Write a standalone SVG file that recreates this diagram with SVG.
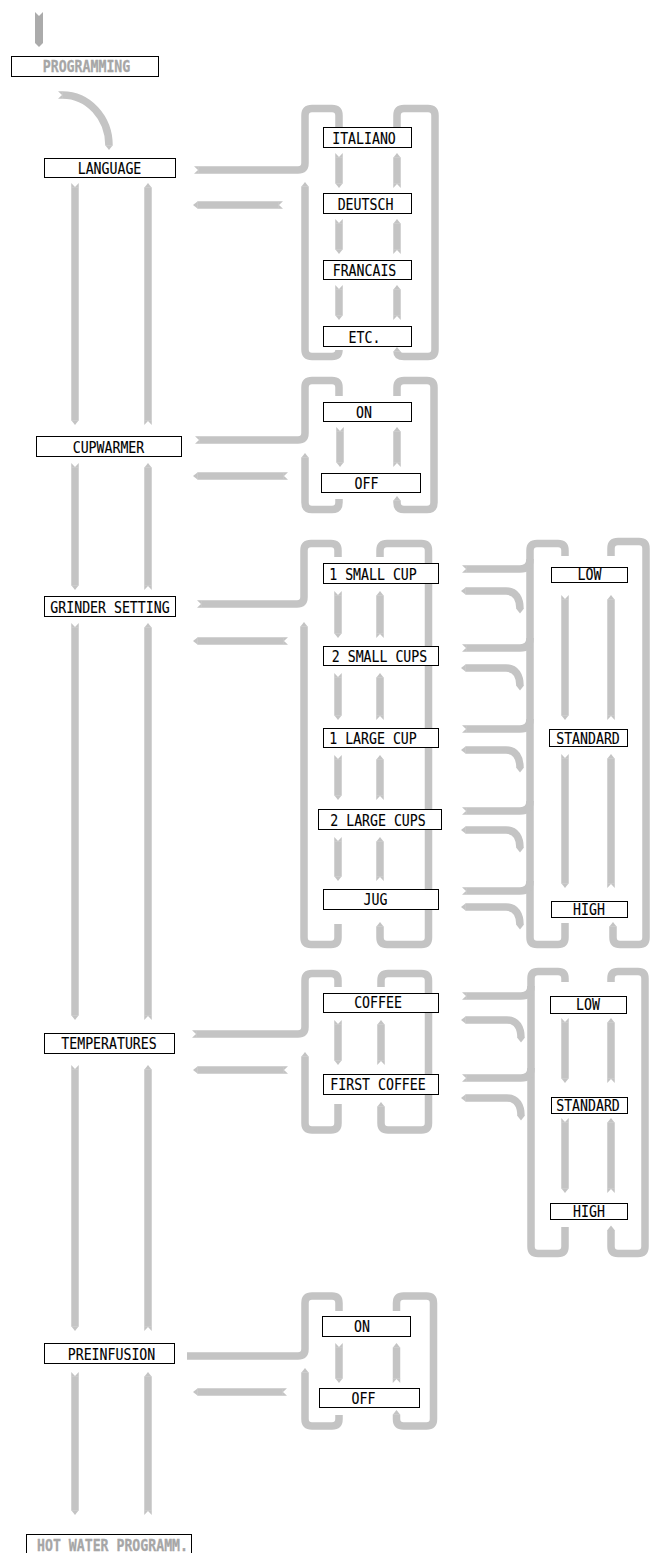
<svg xmlns="http://www.w3.org/2000/svg" width="655" height="1553" viewBox="0 0 655 1553">
<style>
.r{fill:none;stroke:#c4c4c4;stroke-width:7.5}
.s{marker-start:url(#tl)}
.a{marker-end:url(#hd)}
.ah{marker-start:url(#hd)}
.b{fill:#fff;stroke:#000;stroke-width:1}
.t{font-family:"DejaVu Sans Mono","Liberation Mono",monospace;font-size:15px;text-anchor:middle;fill:#000;stroke:#000;stroke-width:0.12}
.g{fill:#a6a6a6;stroke:#a6a6a6;stroke-width:0.3;font-weight:bold}
</style>
<defs>
<marker id="hd" markerUnits="userSpaceOnUse" orient="auto-start-reverse" markerWidth="12" markerHeight="12" refX="0" refY="0" style="overflow:visible"><path d="M-0.3,-3.75L4.5,0L-0.3,3.75Z" fill="#c4c4c4"/></marker>
<marker id="tl" markerUnits="userSpaceOnUse" orient="auto" markerWidth="12" markerHeight="12" refX="0" refY="0" style="overflow:visible"><path d="M0.3,-3.75H-4.5L-0.5,0L-4.5,3.75H0.3Z" fill="#c4c4c4"/></marker>
</defs>
<g id="connectors">
<polygon points="35,12 39,16 43,12 43,43 39,47 35,43" fill="#ababab"/>
<path class="r s a" d="M62.5 95C88.2 95 109 117.6 109 145.5"/>
<path class="r s a" d="M75 187.5V420.5"/>
<path class="r s a" d="M148 420.5V187.5"/>
<path class="r s a" d="M75 467.5V585.5"/>
<path class="r s a" d="M148 585.5V467.5"/>
<path class="r s a" d="M75 627.5V1015.5"/>
<path class="r s a" d="M148 1015.5V627.5"/>
<path class="r s a" d="M75 1069.5V1326.5"/>
<path class="r s a" d="M148 1326.5V1069.5"/>
<path class="r s a" d="M75 1376.5V1510.5"/>
<path class="r s a" d="M148 1510.5V1376.5"/>
<!-- LANGUAGE -->
<path class="r s" d="M198.5 170H298Q305 170 305 163V115.5Q305 108.5 312 108.5H332Q339 108.5 339 115.5V130"/>
<path class="r s a" d="M278.5 205H197.5"/>
<path class="r a" d="M339 350Q339 356.5 332 356.5H312Q305 356.5 305 349.5V186.5"/>
<path class="r a" d="M397 130V115.5Q397 108.5 404 108.5H428Q435 108.5 435 115.5V349.5Q435 356.5 428 356.5H404Q397 356.5 397 351.5"/>
<path class="r s a" d="M339 157.5V183.5"/><path class="r s a" d="M397 183.5V157.5"/>
<path class="r s a" d="M339 223.5V249.5"/><path class="r s a" d="M397 249.5V223.5"/>
<path class="r s a" d="M339 289.5V315.5"/><path class="r s a" d="M397 315.5V289.5"/>
<!-- CUPWARMER -->
<path class="r s" d="M199.5 440H298Q305 440 305 433V387.5Q305 380.5 312 380.5H332Q339 380.5 339 387.5V396"/>
<path class="r s a" d="M283.5 476H197.5"/>
<path class="r a" d="M339 499V502.5Q339 509.5 332 509.5H312Q305 509.5 305 502.5V457.5"/>
<path class="r a" d="M397 396V387.5Q397 380.5 404 380.5H427Q434 380.5 434 387.5V502.5Q434 509.5 427 509.5H404Q397 509.5 397 502.5V500.5"/>
<path class="r s a" d="M340 431.5V462.5"/><path class="r s a" d="M397 462.5V431.5"/>
<!-- GRINDER -->
<path class="r s" d="M201.5 604H297Q304 604 304 597V550.5Q304 543.5 311 543.5H331Q338 543.5 338 550.5V557"/>
<path class="r s a" d="M283.5 641H197.5"/>
<path class="r a" d="M338 924V937.5Q338 944.5 331 944.5H311Q304 944.5 304 937.5V626.5"/>
<path class="r a" d="M380 557V550.5Q380 543.5 387 543.5H421.5Q428.5 543.5 428.5 550.5V937.5Q428.5 944.5 421.5 944.5H387Q380 944.5 380 937.5V926.5"/>
<path class="r s a" d="M338 595.5V633.5"/><path class="r s a" d="M380 633.5V595.5"/>
<path class="r s a" d="M338 677.5V715.5"/><path class="r s a" d="M380 715.5V677.5"/>
<path class="r s a" d="M338 759.5V795.5"/><path class="r s a" d="M380 795.5V759.5"/>
<path class="r s a" d="M338 841.5V876.5"/><path class="r s a" d="M380 876.5V841.5"/>
<path class="r" d="M565 556V550.5Q565 543.5 558 543.5H537Q530 543.5 530 550.5V937.5Q530 944.5 537 944.5H558Q565 944.5 565 937.5V923"/>
<path class="r a" d="M611 556V548.5Q611 541.5 618 541.5H639Q646 541.5 646 548.5V937.5Q646 944.5 639 944.5H620Q613 944.5 613 937.5V926.5"/>
<path class="r s a" d="M565 599.5V715.5"/><path class="r s a" d="M611 715.5V599.5"/>
<path class="r s a" d="M565 758.5V883.5"/><path class="r s a" d="M611 883.5V758.5"/>
<path class="r s" d="M466.5 569H520Q530 569 530 559"/>
<path class="r s" d="M466.5 648H520Q530 648 530 638"/>
<path class="r s" d="M466.5 729H520Q530 729 530 719"/>
<path class="r s" d="M466.5 811H520Q530 811 530 801"/>
<path class="r s" d="M466.5 891H520Q530 891 530 881"/>
<path class="r ah a" d="M520 609C520 599 516 591 506 591H465.5"/>
<path class="r ah a" d="M520 686C520 676 516 668 506 668H465.5"/>
<path class="r ah a" d="M520 768C520 758 516 750 506 750H465.5"/>
<path class="r ah a" d="M520 848C520 838 516 830 506 830H465.5"/>
<path class="r ah a" d="M520 925C520 915 516 907 506 907H465.5"/>
<!-- TEMPERATURES -->
<path class="r s" d="M196.5 1034H298Q305 1034 305 1027V980.5Q305 973.5 312 973.5H331Q338 973.5 338 980.5V987"/>
<path class="r s a" d="M283.5 1070H197.5"/>
<path class="r a" d="M338 1104V1123Q338 1130 331 1130H312Q305 1130 305 1123V1056.5"/>
<path class="r a" d="M381 987V980.5Q381 973.5 388 973.5H421.5Q428.5 973.5 428.5 980.5V1123Q428.5 1130 421.5 1130H388Q381 1130 381 1123V1106.5"/>
<path class="r s a" d="M338 1024.5V1060.5"/><path class="r s a" d="M381 1060.5V1024.5"/>
<path class="r" d="M565 982V978.5Q565 971.5 558 971.5H538Q531 971.5 531 978.5V1246.5Q531 1253.5 538 1253.5H558Q565 1253.5 565 1246.5V1227"/>
<path class="r a" d="M611 982V978.5Q611 971.5 618 971.5H638Q645 971.5 645 978.5V1246.5Q645 1253.5 638 1253.5H618Q611 1253.5 611 1246.5V1230"/>
<path class="r s a" d="M565 1022.5V1078.5"/><path class="r s a" d="M611 1078.5V1022.5"/>
<path class="r s a" d="M565 1122.5V1188.5"/><path class="r s a" d="M611 1188.5V1122.5"/>
<path class="r s" d="M466.5 996H521Q531 996 531 986"/>
<path class="r s" d="M466.5 1078H521Q531 1078 531 1068"/>
<path class="r ah a" d="M521 1038C521 1028 517 1020 507 1020H465.5"/>
<path class="r ah a" d="M521 1116C521 1106 517 1098 507 1098H465.5"/>
<!-- PREINFUSION -->
<path class="r" d="M187 1356H298Q305 1356 305 1349V1303Q305 1296 312 1296H332Q339 1296 339 1303V1311"/>
<path class="r s a" d="M282.5 1392H197.5"/>
<path class="r a" d="M339 1415V1419Q339 1426 332 1426H312Q305 1426 305 1419V1372.5"/>
<path class="r a" d="M396.5 1311V1303Q396.5 1296 403.5 1296H426.5Q433.5 1296 433.5 1303V1419Q433.5 1426 426.5 1426H403.5Q396.5 1426 396.5 1419V1414.5"/>
<path class="r s a" d="M339 1347.5V1378.5"/><path class="r s a" d="M396.5 1378.5V1347.5"/>
</g>
<g id="programming"><rect class="b" x="11.5" y="56.5" width="147" height="20"/><text class="t g" x="86.5" y="72" textLength="87.5" lengthAdjust="spacingAndGlyphs">PROGRAMMING</text></g>
<g id="language"><rect class="b" x="44.5" y="158.5" width="131" height="19"/><text class="t" x="109.5" y="174" textLength="63.6" lengthAdjust="spacingAndGlyphs">LANGUAGE</text></g>
<g id="italiano"><rect class="b" x="323.5" y="127.5" width="88" height="20"/><text class="t" x="364" y="144" textLength="63.6" lengthAdjust="spacingAndGlyphs">ITALIANO</text></g>
<g id="deutsch"><rect class="b" x="323.5" y="193.5" width="88" height="20"/><text class="t" x="365.5" y="210" textLength="55.7" lengthAdjust="spacingAndGlyphs">DEUTSCH</text></g>
<g id="francais"><rect class="b" x="323.5" y="260.5" width="88" height="19"/><text class="t" x="364.5" y="276" textLength="63.6" lengthAdjust="spacingAndGlyphs">FRANCAIS</text></g>
<g id="etc"><rect class="b" x="323.5" y="326.5" width="88" height="20"/><text class="t" x="364.5" y="342.5" textLength="31.8" lengthAdjust="spacingAndGlyphs">ETC.</text></g>
<g id="cupwarmer"><rect class="b" x="36.5" y="436.5" width="145" height="20"/><text class="t" x="108.5" y="452.5" textLength="71.6" lengthAdjust="spacingAndGlyphs">CUPWARMER</text></g>
<g id="cw-on"><rect class="b" x="323.5" y="402.5" width="88" height="19"/><text class="t" x="364" y="417.5" textLength="15.9" lengthAdjust="spacingAndGlyphs">ON</text></g>
<g id="cw-off"><rect class="b" x="321.5" y="473.5" width="99" height="19"/><text class="t" x="366.5" y="488.5" textLength="23.9" lengthAdjust="spacingAndGlyphs">OFF</text></g>
<g id="grinder"><rect class="b" x="44.5" y="596.5" width="131" height="20"/><text class="t" x="110" y="612.5" textLength="119.3" lengthAdjust="spacingAndGlyphs">GRINDER SETTING</text></g>
<g id="small1"><rect class="b" x="323.5" y="563.5" width="115" height="20"/><text class="t" x="373" y="580" textLength="87.5" lengthAdjust="spacingAndGlyphs">1 SMALL CUP</text></g>
<g id="small2"><rect class="b" x="323.5" y="646.5" width="115" height="19"/><text class="t" x="379.5" y="661.5" textLength="95.4" lengthAdjust="spacingAndGlyphs">2 SMALL CUPS</text></g>
<g id="large1"><rect class="b" x="323.5" y="728.5" width="115" height="19"/><text class="t" x="373" y="743.5" textLength="87.5" lengthAdjust="spacingAndGlyphs">1 LARGE CUP</text></g>
<g id="large2"><rect class="b" x="318.5" y="809.5" width="123" height="20"/><text class="t" x="378" y="825.5" textLength="95.4" lengthAdjust="spacingAndGlyphs">2 LARGE CUPS</text></g>
<g id="jug"><rect class="b" x="323.5" y="889.5" width="115" height="20"/><text class="t" x="375.5" y="905" textLength="23.9" lengthAdjust="spacingAndGlyphs">JUG</text></g>
<g id="g-low"><rect class="b" x="551.5" y="567.5" width="76" height="15"/><text class="t" x="589.5" y="580" textLength="23.9" lengthAdjust="spacingAndGlyphs">LOW</text></g>
<g id="g-standard"><rect class="b" x="549.5" y="729.5" width="78" height="17"/><text class="t" x="588" y="743.5" textLength="63.6" lengthAdjust="spacingAndGlyphs">STANDARD</text></g>
<g id="g-high"><rect class="b" x="551.5" y="901.5" width="76" height="16"/><text class="t" x="589" y="914.5" textLength="31.8" lengthAdjust="spacingAndGlyphs">HIGH</text></g>
<g id="temperatures"><rect class="b" x="44.5" y="1033.5" width="130" height="20"/><text class="t" x="109" y="1049" textLength="95.4" lengthAdjust="spacingAndGlyphs">TEMPERATURES</text></g>
<g id="coffee"><rect class="b" x="323.5" y="993.5" width="115" height="19"/><text class="t" x="378" y="1008" textLength="47.7" lengthAdjust="spacingAndGlyphs">COFFEE</text></g>
<g id="first-coffee"><rect class="b" x="323.5" y="1074.5" width="115" height="20"/><text class="t" x="378" y="1090" textLength="95.4" lengthAdjust="spacingAndGlyphs">FIRST COFFEE</text></g>
<g id="t-low"><rect class="b" x="550.5" y="996.5" width="76" height="17"/><text class="t" x="588" y="1009.5" textLength="23.9" lengthAdjust="spacingAndGlyphs">LOW</text></g>
<g id="t-standard"><rect class="b" x="551.5" y="1097.5" width="76" height="16"/><text class="t" x="588" y="1110.5" textLength="63.6" lengthAdjust="spacingAndGlyphs">STANDARD</text></g>
<g id="t-high"><rect class="b" x="550.5" y="1203.5" width="77" height="16"/><text class="t" x="589" y="1216.5" textLength="31.8" lengthAdjust="spacingAndGlyphs">HIGH</text></g>
<g id="preinfusion"><rect class="b" x="44.5" y="1343.5" width="130" height="20"/><text class="t" x="111.5" y="1359.5" textLength="87.5" lengthAdjust="spacingAndGlyphs">PREINFUSION</text></g>
<g id="pi-on"><rect class="b" x="322.5" y="1316.5" width="88" height="20"/><text class="t" x="362" y="1332" textLength="15.9" lengthAdjust="spacingAndGlyphs">ON</text></g>
<g id="pi-off"><rect class="b" x="319.5" y="1388.5" width="100" height="19"/><text class="t" x="363.5" y="1403.5" textLength="23.9" lengthAdjust="spacingAndGlyphs">OFF</text></g>
<g id="hot-water"><rect class="b" x="26.5" y="1534.5" width="165" height="25"/><text class="t g" x="112.5" y="1550.5" textLength="151" lengthAdjust="spacingAndGlyphs">HOT WATER PROGRAMM.</text></g>
</svg>
